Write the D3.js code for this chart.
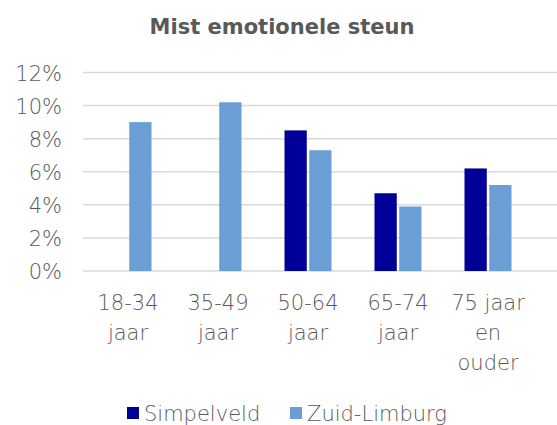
<!DOCTYPE html>
<html>
<head>
<meta charset="utf-8">
<script src="https://cdn.jsdelivr.net/npm/d3@7"></script>
<style>
  body { margin: 0; background: #fff; }
  svg text { font-family: "DejaVu Sans", sans-serif; fill: #595959; font-weight: 200; }
</style>
</head>
<body>
<svg class="chart"></svg>
<script>
// data
const categories = [["18-34", "jaar"], ["35-49", "jaar"], ["50-64", "jaar"], ["65-74", "jaar"], ["75 jaar", "en", "ouder"]]
const seriesNames = ["Simpelveld", "Zuid-Limburg"]
const simpelveld = [null, null, 8.5, 4.7, 6.2]
const zuidLimburg = [9.0, 10.2, 7.3, 3.9, 5.2]
const yTicks = [0, 2, 4, 6, 8, 10, 12]
const colors = ["#000099", "#6B9ED4"]

const width = 557, height = 425

const svg = d3.select("svg.chart")
    .attr("width", width)
    .attr("height", height)

// title
svg.append("text")
    .attr("x", 282)
    .attr("y", 34)
    .attr("text-anchor", "middle")
    .attr("font-size", "21px")
    .style("font-weight", "bold")
    .text("Mist emotionele steun")

const scaleX = d3.scaleBand()
    .domain(categories.map((d, i) => i))
    .range([83, 533])

const scaleSeries = d3.scaleBand()
    .domain([0, 1])
    .range([21.5, 68.5])
    .paddingInner(0.1)

const scaleY = d3.scaleLinear()
    .domain([0, 12])
    .range([271, 72.5])

// gridlines
svg.append("g")
    .selectAll("line")
    .data(yTicks)
    .enter().append("line")
    .attr("x1", 83)
    .attr("x2", width)
    .attr("y1", d => scaleY(d))
    .attr("y2", d => scaleY(d))
    .attr("stroke", "#d9d9d9")
    .attr("stroke-width", 1.5)

// y tick labels
svg.append("g")
    .selectAll("text")
    .data(yTicks)
    .enter().append("text")
    .attr("x", 62)
    .attr("y", d => scaleY(d) + 8)
    .attr("text-anchor", "end")
    .attr("font-size", "21px")
    .text(d => d + "%")

// bars
const series = [simpelveld, zuidLimburg]
series.forEach((values, s) => {
    svg.append("g")
        .selectAll("rect")
        .data(values.map((v, i) => ({v: v, i: i})).filter(d => d.v !== null))
        .enter().append("rect")
        .attr("x", d => scaleX(d.i) + scaleSeries(s))
        .attr("width", scaleSeries.bandwidth())
        .attr("y", d => scaleY(d.v))
        .attr("height", d => scaleY(0) - scaleY(d.v))
        .attr("fill", colors[s])
})

// x labels
const xLabels = svg.append("g")
    .selectAll("text")
    .data(categories)
    .enter().append("text")
    .attr("x", (d, i) => scaleX(i) + scaleX.bandwidth() / 2)
    .attr("y", 310)
    .attr("text-anchor", "middle")
    .attr("font-size", "21px")

xLabels.selectAll("tspan")
    .data(d => d)
    .enter().append("tspan")
    .attr("x", function() { return this.parentNode.getAttribute("x") })
    .attr("dy", (d, i) => i === 0 ? 0 : 30)
    .text(d => d)

// legend
const legendX = [127, 290]
const legend = svg.append("g")
    .selectAll("g")
    .data(seriesNames)
    .enter().append("g")
    .attr("transform", (d, i) => `translate(${legendX[i]}, 0)`)

legend.append("rect")
    .attr("x", 0)
    .attr("y", 407)
    .attr("width", 12)
    .attr("height", 12)
    .attr("fill", (d, i) => colors[i])

legend.append("text")
    .attr("x", 17)
    .attr("y", 421)
    .attr("font-size", "21px")
    .text(d => d)
</script>
</body>
</html>
